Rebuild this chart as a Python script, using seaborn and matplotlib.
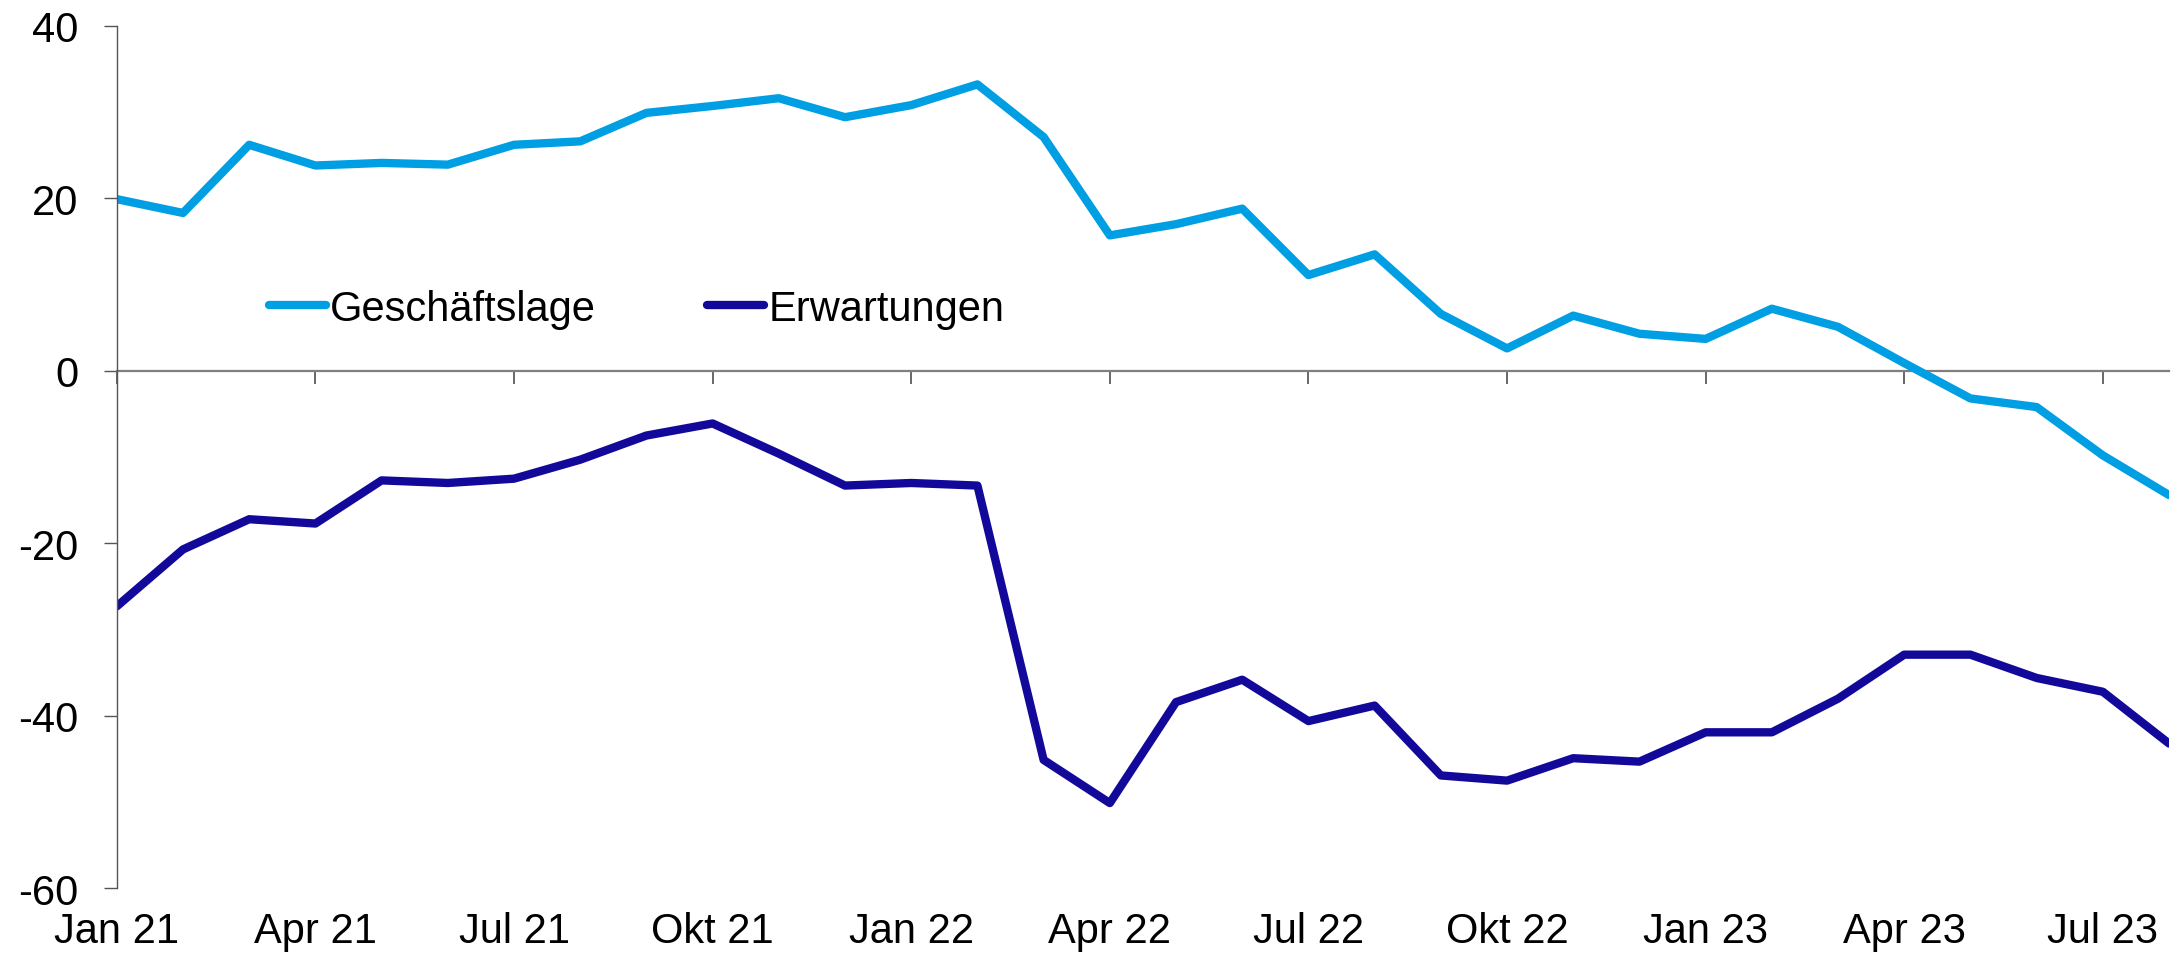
import numpy as np
import pandas as pd
import matplotlib
matplotlib.use("Agg")
import matplotlib.pyplot as plt
import seaborn as sns

# ---- data ----
months = list(range(32))  # Jan 21 .. Aug 23
tick_positions = [0, 3, 6, 9, 12, 15, 18, 21, 24, 27, 30]
tick_labels = ["Jan 21", "Apr 21", "Jul 21", "Okt 21", "Jan 22", "Apr 22",
               "Jul 22", "Okt 22", "Jan 23", "Apr 23", "Jul 23"]

geschaeftslage = [19.9, 18.3, 26.2, 23.8, 24.1, 23.9, 26.2, 26.6, 29.9, 30.7,
                  31.6, 29.4, 30.8, 33.2, 27.1, 15.7, 17.0, 18.8, 11.1, 13.5,
                  6.6, 2.6, 6.4, 4.3, 3.7, 7.2, 5.1, 0.9, -3.2, -4.2,
                  -9.8, -14.4]
erwartungen = [-27.3, -20.7, -17.2, -17.7, -12.7, -13.0, -12.5, -10.3, -7.5, -6.1,
               -9.6, -13.3, -13.0, -13.3, -45.1, -50.1, -38.4, -35.8, -40.6, -38.8,
               -46.9, -47.5, -44.9, -45.3, -41.9, -41.9, -38.0, -32.9, -32.9, -35.6,
               -37.2, -43.2]
series_names = ["Geschäftslage", "Erwartungen"]
colors = ["#009FE3", "#12099A"]

df = pd.DataFrame({
    "Monat": months * 2,
    "Wert": geschaeftslage + erwartungen,
    "Reihe": [series_names[0]] * len(months) + [series_names[1]] * len(months),
})

# ---- style ----
sns.set_style("white")
plt.rcParams["font.family"] = ["Liberation Sans", "DejaVu Sans"]
plt.rcParams["font.size"] = 30
plt.rcParams["axes.unicode_minus"] = False
plt.rcParams["text.color"] = "black"
plt.rcParams["xtick.labelcolor"] = "black"
plt.rcParams["ytick.labelcolor"] = "black"

fig = plt.figure(figsize=(21.71, 9.62), dpi=100)
ax = fig.add_axes([0.0538, 0.0754, 0.9991 - 0.0538, 0.9722 - 0.0754])

sns.lineplot(data=df, x="Monat", y="Wert", hue="Reihe", hue_order=series_names,
             palette=colors, linewidth=6, ax=ax, legend=True)

ax.set_xlim(0, 31)
ax.set_ylim(-60, 40)
ax.set_yticks([-60, -40, -20, 0, 20, 40])
ax.set_xlabel("")
ax.set_ylabel("")

for s in ["top", "right"]:
    ax.spines[s].set_visible(False)
ax.spines["left"].set_color("#555555")
ax.spines["left"].set_linewidth(1.0)
ax.spines["bottom"].set_position(("data", 0))
ax.spines["bottom"].set_color("#7f7f7f")
ax.spines["bottom"].set_linewidth(1.6)
ax.spines["bottom"].set_zorder(1)

ax.set_xticks(tick_positions)
ax.tick_params(axis="x", direction="out", length=9.4, width=1.4, color="#666666",
               labelbottom=False, bottom=True)
ax.tick_params(axis="y", direction="out", length=9.4, width=1.0, color="#555555",
               left=True, pad=18, labelsize=30, labelcolor="black")

sec = ax.secondary_xaxis("bottom")
sec.set_xticks(tick_positions, tick_labels)
sec.tick_params(length=0, pad=16, labelsize=30, labelcolor="black")
sec.spines["bottom"].set_visible(False)

handles, labels = ax.get_legend_handles_labels()
for h in handles:
    h.set_solid_capstyle("round")
    h.set_linewidth(6)
leg = ax.legend(handles, labels, loc="center left", bbox_to_anchor=(0.0742, 0.672),
                ncol=2, frameon=False, fontsize=30, handlelength=1.37,
                handletextpad=0.1, columnspacing=2.66, borderpad=0, borderaxespad=0)
for t in leg.get_texts():
    t.set_color("black")

fig.savefig("out.png", dpi=100)
